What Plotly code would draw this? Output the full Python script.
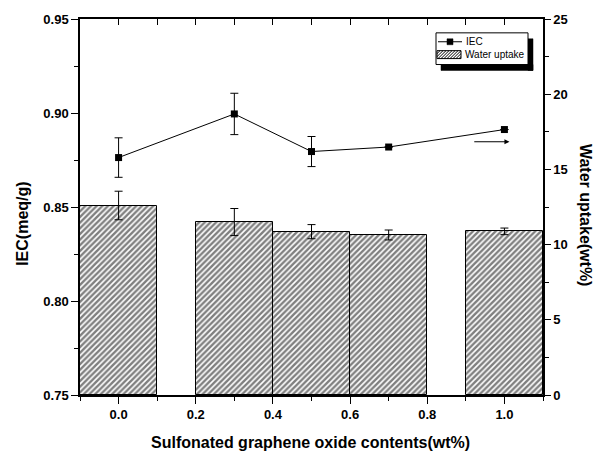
import plotly.graph_objects as go

# Data
contents = [0.0, 0.3, 0.5, 0.7, 1.0]
iec = [0.8763, 0.8995, 0.8795, 0.8819, 0.8912]
iec_err = [0.0105, 0.011, 0.008, 0.0, 0.0]
water_uptake = [12.6, 11.5, 10.86, 10.64, 10.88]
water_err = [0.95, 0.9, 0.47, 0.33, 0.22]
x_ticks = [0.0, 0.2, 0.4, 0.6, 0.8, 1.0]
x_ticktext = ["0.0", "0.2", "0.4", "0.6", "0.8", "1.0"]
y_ticks = [0.75, 0.80, 0.85, 0.90, 0.95]
y_ticktext = ["0.75", "0.80", "0.85", "0.90", "0.95"]
y2_ticks = [0, 5, 10, 15, 20, 25]

FONT = "Arial, Liberation Sans, sans-serif"
tickfont = dict(family=FONT, size=13, color="black", weight="bold")

# plot area in screen pixels
PX0, PX1, PY0, PY1 = 80, 543, 15, 395


def px(X):
    return (X - PX0) / (PX1 - PX0)


def py(Y):
    return (PY1 - Y) / (PY1 - PY0)


def rect(x0, y0, x1, y1, fill, lw=1):
    return dict(type="rect", xref="paper", yref="paper", x0=px(x0), x1=px(x1), y0=py(y1), y1=py(y0),
                fillcolor=fill, line=dict(color="black", width=lw), layer="above")


fig = go.Figure()

fig.add_trace(go.Scatter(
    x=contents, y=iec, name="IEC", mode="lines+markers",
    line=dict(color="black", width=1),
    marker=dict(symbol="square", size=7, color="black"),
    error_y=dict(type="data", array=iec_err, color="black", thickness=1, width=4),
    yaxis="y", xaxis="x", showlegend=False,
))

fig.add_trace(go.Bar(
    x=contents, y=water_uptake, name="Water uptake", width=0.2,
    marker=dict(color="white", line=dict(color="black", width=1),
                pattern=dict(shape="/", fgcolor="black", bgcolor="white", size=4, solidity=0.6)),
    error_y=dict(type="data", array=water_err, color="black", thickness=1, width=4),
    yaxis="y2", xaxis="x", showlegend=False,
))

fig.add_trace(go.Scatter(x=[0.0, 1.0], y=[0.75, 0.75], mode="markers", marker=dict(opacity=0),
                         xaxis="x2", yaxis="y", showlegend=False, hoverinfo="skip"))

fig.update_layout(
    width=600, height=454,
    margin=dict(l=PX0, r=600 - PX1, t=PY0, b=454 - PY1),
    paper_bgcolor="white", plot_bgcolor="white",
    font=dict(family=FONT, color="black"),
    bargap=0,
    showlegend=False,
    xaxis=dict(range=[-0.1, 1.1], tickvals=x_ticks, ticktext=x_ticktext, ticks="outside",
               ticklen=7, tickwidth=1, tickcolor="black", showline=True, linecolor="black",
               linewidth=1.5, mirror=True, showgrid=False, zeroline=False, tickfont=tickfont,
               minor=dict(dtick=0.1, tick0=0, ticks="outside", ticklen=4, tickcolor="black")),
    xaxis2=dict(range=[-0.1, 1.1], overlaying="x", side="top", anchor="y", dtick=0.1, tick0=0,
                ticks="inside", ticklen=6, tickwidth=1, tickcolor="black", showticklabels=False,
                showgrid=False, zeroline=False, showline=False),
    yaxis=dict(range=[0.75, 0.95], tickvals=y_ticks, ticktext=y_ticktext, ticks="outside",
               ticklen=7, tickcolor="black", showline=True, linecolor="black", linewidth=1.5,
               showgrid=False, zeroline=False, tickfont=tickfont,
               minor=dict(dtick=0.025, tick0=0.75, ticks="outside", ticklen=4, tickcolor="black")),
    yaxis2=dict(range=[0, 25], tickvals=y2_ticks, overlaying="y", side="right", ticks="outside",
                ticklen=6, tickcolor="black", showline=True, linecolor="black", linewidth=1.5,
                showgrid=False, zeroline=False, tickfont=tickfont,
                minor=dict(dtick=2.5, tick0=0, ticks="outside", ticklen=4, tickcolor="black")),
)

# Custom legend (decoration): shadow strips, box, keys
shapes = [
    rect(528, 35, 533, 67, "black", 0.5),
    rect(441, 61, 533, 67, "black", 0.5),
    rect(436, 29, 528, 61, "white", 1),
    dict(type="line", xref="paper", yref="paper", x0=px(438), x1=px(462), y0=py(38), y1=py(38),
         line=dict(color="black", width=1), layer="above"),
    rect(447, 35, 453, 41, "black", 0.5),
]
# hatched swatch
sx0, sx1, sy0, sy1 = 437, 461, 47, 55
h = sy1 - sy0
path = ""
s = sx0 - h
while s < sx1:
    xa, ya = s, sy1
    xb, yb = s + h, sy0
    if xa < sx0:
        ya = sy1 - (sx0 - xa)
        xa = sx0
    if xb > sx1:
        yb = sy1 - (sx1 - s)
        xb = sx1
    path += f"M{px(xa)},{py(ya)} L{px(xb)},{py(yb)} "
    s += 3
shapes.append(dict(type="path", xref="paper", yref="paper", path=path,
                   line=dict(color="black", width=1), layer="above"))
shapes.append(rect(sx0, sy0, sx1, sy1, "rgba(0,0,0,0)", 1))

annotations = [
    dict(text="Sulfonated graphene oxide contents(wt%)", x=px(310), y=py(443), xref="paper", yref="paper",
         xanchor="center", yanchor="middle", showarrow=False, font=dict(family=FONT, size=16, weight="bold")),
    dict(text="IEC(meq/g)", x=px(23), y=py(222), xref="paper", yref="paper", textangle=-90,
         xanchor="center", yanchor="middle", showarrow=False, font=dict(family=FONT, size=16, weight="bold")),
    dict(text="Water uptake(wt%)", x=px(585), y=py(213), xref="paper", yref="paper", textangle=90,
         xanchor="center", yanchor="middle", showarrow=False, font=dict(family=FONT, size=16, weight="bold")),
    dict(x=1.013, y=0.8847, ax=0.918, ay=0.8847, xref="x", yref="y", axref="x", ayref="y",
         text="", showarrow=True, arrowhead=2, arrowsize=1, arrowwidth=1, arrowcolor="black"),
    dict(text="IEC", x=px(464), y=py(38), xref="paper", yref="paper", xanchor="left", yanchor="middle",
         showarrow=False, font=dict(family=FONT, size=10)),
    dict(text="Water uptake", x=px(463), y=py(51), xref="paper", yref="paper", xanchor="left",
         yanchor="middle", showarrow=False, font=dict(family=FONT, size=10)),
]
fig.update_layout(annotations=annotations, shapes=shapes)

fig.write_html("out.html", config={"displayModeBar": False},
               post_script="document.body.style.margin='0px';")
